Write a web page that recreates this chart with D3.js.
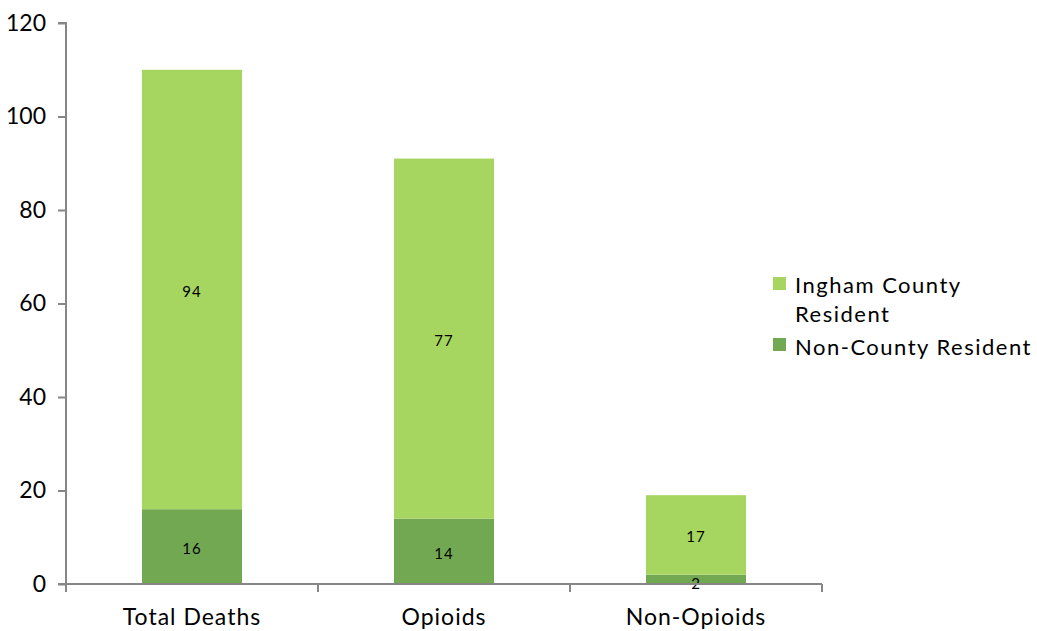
<!DOCTYPE html>
<html>
<head>
<meta charset="utf-8">
<script src="https://cdn.jsdelivr.net/npm/d3@7"></script>
<style>
  body { margin: 0; background: #fff; }
  text { font-family: Lato, "Open Sans", sans-serif; fill: #000; }
</style>
</head>
<body>
<script>
(function(){
    'use strict'

    var categories = ["Total Deaths", "Opioids", "Non-Opioids"];
    var nonCounty = [16, 14, 2];
    var ingham = [94, 77, 17];
    var seriesNames = ["Ingham County Resident", "Non-County Resident"];
    var yTicks = [0, 20, 40, 60, 80, 100, 120];

    var W = 1037, H = 631;
    var colors = { light: "#a6d65f", dark: "#71a851" };

    var svg = d3.select("body").append("svg")
        .attr("width", W)
        .attr("height", H);

    var x = d3.scaleBand().domain(categories).range([66, 822]).paddingInner(0.603).paddingOuter(0.3015);
    var y = d3.scaleLinear().domain([0, 120]).range([584, 23]);

    var rows = categories.map(function(c, i) {
        return { cat: c, dark: nonCounty[i], light: ingham[i] };
    });
    var stack = d3.stack().keys(["dark", "light"])(rows);

    // bars + value labels
    stack.forEach(function(layer) {
        var g = svg.append("g").attr("fill", colors[layer.key]);
        g.selectAll("rect").data(layer).enter().append("rect")
            .attr("x", function(d){ return x(d.data.cat); })
            .attr("width", x.bandwidth())
            .attr("y", function(d){ return y(d[1]); })
            .attr("height", function(d){ return y(d[0]) - y(d[1]); });

        svg.append("g").selectAll("text").data(layer).enter().append("text")
            .attr("x", function(d){ return x(d.data.cat) + x.bandwidth() / 2; })
            .attr("y", function(d){
                var m = (y(d[0]) + y(d[1])) / 2;
                return layer.key === "dark" && d.data.dark < 5 ? y(0) : m + 2;
            })
            .attr("dy", "0.35em")
            .attr("text-anchor", "middle")
            .style("font-size", "15px")
            .style("letter-spacing", "1px")
            .text(function(d){ return d.data[layer.key]; });
    });

    // y axis
    var ya = svg.append("g")
        .attr("transform", "translate(66,0)")
        .call(d3.axisLeft(y).tickValues(yTicks).tickSize(8).tickPadding(12));
    ya.selectAll("line, path").attr("stroke", "#868686").attr("stroke-width", 2);
    ya.select(".domain").attr("d", "M-8," + y(120) + "H0V" + y(0));
    ya.selectAll("text").style("font-size", "23px").style("font-family", "Lato, sans-serif").attr("fill", "#000");

    // x axis
    var xa = svg.append("g").attr("transform", "translate(0," + y(0) + ")");
    xa.append("line").attr("x1", 58).attr("x2", 822).attr("stroke", "#868686").attr("stroke-width", 2);
    for (var i = 0; i <= categories.length; i++) {
        var bx = 66 + i * x.step();
        xa.append("line").attr("x1", bx).attr("x2", bx).attr("y1", 0).attr("y2", 8)
            .attr("stroke", "#868686").attr("stroke-width", 2);
    }
    xa.selectAll("text.cat").data(categories).enter().append("text")
        .attr("class", "cat")
        .attr("x", function(d){ return x(d) + x.bandwidth() / 2; })
        .attr("y", 41)
        .attr("text-anchor", "middle")
        .style("font-size", "23px")
        .style("letter-spacing", "1px")
        .text(function(d){ return d; });

    // legend
    var lg = svg.append("g").attr("transform", "translate(773,277)");
    lg.append("rect").attr("width", 13).attr("height", 13).attr("fill", colors.light);
    lg.append("text").attr("x", 22).attr("y", 16).style("font-size", "22px").style("letter-spacing", "1.5px").text("Ingham County");
    lg.append("text").attr("x", 22).attr("y", 45).style("font-size", "22px").style("letter-spacing", "1.5px").text("Resident");
    lg.append("rect").attr("y", 61).attr("width", 13).attr("height", 13).attr("fill", colors.dark);
    lg.append("text").attr("x", 22).attr("y", 78).style("font-size", "22px").style("letter-spacing", "1.5px").text(seriesNames[1]);
})();
</script>
</body>
</html>
